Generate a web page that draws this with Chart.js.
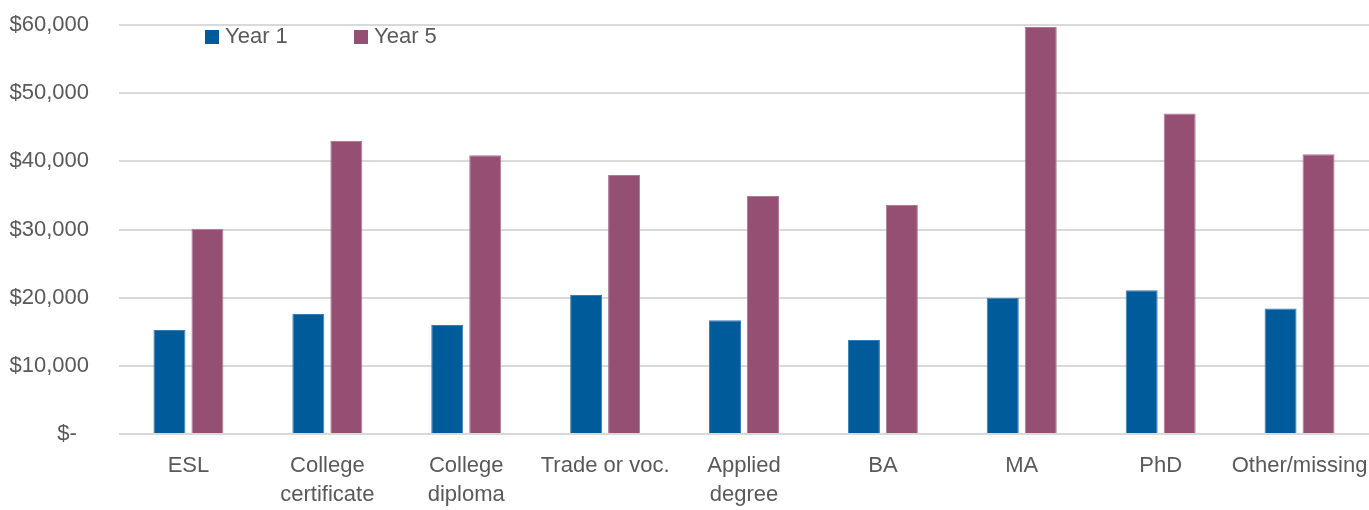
<!DOCTYPE html>
<html>
<head>
<meta charset="utf-8">
<script src="https://cdn.jsdelivr.net/npm/chart.js@4/dist/chart.umd.min.js"></script>
<style>
  html, body { margin: 0; padding: 0; background: #fff; }
  #wrap { width: 1369px; height: 510px; position: relative; }
</style>
</head>
<body>
<div id="wrap"><canvas id="c" width="1369" height="510"></canvas></div>
<script>
const categories = [
  "ESL",
  ["College", "certificate"],
  ["College", "diploma"],
  "Trade or voc.",
  ["Applied", "degree"],
  "BA",
  "MA",
  "PhD",
  "Other/missing"
];
const seriesNames = ["Year 1", "Year 5"];
const year1 = [15250, 17600, 16000, 20400, 16700, 13800, 20000, 21100, 18400];
const year5 = [30100, 43000, 40900, 38000, 34900, 33600, 59700, 47000, 41050];
const yTickValues = [0, 10000, 20000, 30000, 40000, 50000, 60000];
const yTickLabels = ["$-  ", "$10,000", "$20,000", "$30,000", "$40,000", "$50,000", "$60,000"];

const colors = ["#005B9A", "#954F72"];
const borderColors = ["#3a7db3", "#b07a95"];
const FONT = "'Liberation Sans', Arial, sans-serif";
const TEXT = "#595959";

const overlayLegend = {
  id: "overlayLegend",
  afterDraw(chart) {
    const ctx = chart.ctx;
    const a = chart.chartArea;
    ctx.save();
    ctx.font = "22px " + FONT;
    ctx.textBaseline = "middle";
    ctx.textAlign = "left";
    let x = a.left + 86;
    const y = a.top + 12;
    chart.data.datasets.forEach((ds) => {
      ctx.fillStyle = ds.backgroundColor;
      ctx.fillRect(x, y - 7, 14, 14);
      ctx.fillStyle = TEXT;
      ctx.fillText(ds.label, x + 20, y);
      x += 149;
    });
    ctx.restore();
  }
};

new Chart(document.getElementById("c"), {
  type: "bar",
  data: {
    labels: categories,
    datasets: [
      { label: seriesNames[0], data: year1, backgroundColor: colors[0], borderColor: borderColors[0], borderWidth: 1 },
      { label: seriesNames[1], data: year5, backgroundColor: colors[1], borderColor: borderColors[1], borderWidth: 1 }
    ]
  },
  options: {
    responsive: false,
    animation: false,
    devicePixelRatio: 1,
    layout: { padding: { top: 25, right: 0, left: 0, bottom: 0 } },
    datasets: { bar: { categoryPercentage: 0.547, barPercentage: 0.842 } },
    plugins: { legend: { display: false }, tooltip: { enabled: false } },
    scales: {
      x: {
        grid: { display: false, drawTicks: false },
        border: { display: false },
        ticks: {
          color: TEXT,
          font: { family: FONT, size: 22, lineHeight: 1.3 },
          padding: 18,
          maxRotation: 0,
          autoSkip: false
        },
        afterFit(scale) {
          scale.height = 76;
          scale.paddingLeft = 0;
          scale.paddingRight = 0;
        }
      },
      y: {
        min: 0,
        max: 60000,
        afterBuildTicks(scale) { scale.ticks = yTickValues.map(v => ({ value: v })); },
        grid: { color: "#d9d9d9", lineWidth: 2, drawTicks: false },
        border: { display: false },
        ticks: {
          color: TEXT,
          font: { family: FONT, size: 22 },
          padding: 30,
          callback: (v) => yTickLabels[yTickValues.indexOf(v)]
        },
        afterFit(scale) {
          scale.width = 119;
          scale.paddingTop = 0;
          scale.paddingBottom = 0;
        }
      }
    }
  },
  plugins: [overlayLegend]
});
</script>
</body>
</html>
